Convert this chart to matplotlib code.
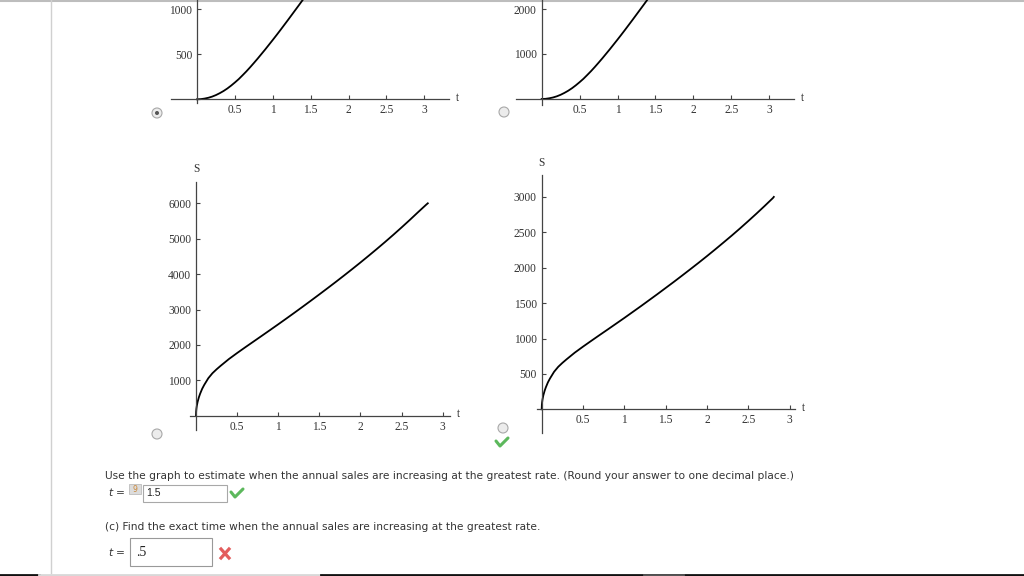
import numpy as np
import matplotlib
matplotlib.use("Agg")
from matplotlib import pyplot as plt
from matplotlib.patches import Circle, Rectangle

W, H = 1024, 576

# values
t_a = [0, 0.05, 0.1, 0.15, 0.2, 0.25, 0.3, 0.35, 0.4, 0.45, 0.5, 0.55, 0.6, 0.65,
       0.7, 0.75, 0.8, 0.85, 0.9, 0.95, 1.0, 1.05, 1.1, 1.15, 1.2, 1.25, 1.3,
       1.35, 1.4, 1.45]
s_a = [0, 2, 8, 17, 30, 47, 68, 92, 120, 152, 187, 224, 266, 309, 355, 403,
       452, 503, 554, 607, 660, 714, 769, 825, 881, 938, 995, 1052, 1110, 1168]

t_b = [0, 0.05, 0.1, 0.15, 0.2, 0.25, 0.3, 0.35, 0.4, 0.45, 0.5, 0.55, 0.6, 0.65,
       0.7, 0.75, 0.8, 0.85, 0.9, 0.95, 1.0, 1.05, 1.1, 1.15, 1.2, 1.25, 1.3,
       1.35, 1.4, 1.45]
s_b = [0, 4, 16, 34, 60, 94, 136, 184, 240, 304, 374, 448, 532, 618, 710, 806,
       904, 1006, 1108, 1214, 1320, 1428, 1538, 1650, 1762, 1876, 1990, 2104,
       2220, 2336]

t_c = [0, 0.002, 0.005, 0.01, 0.02, 0.035, 0.05, 0.075, 0.1, 0.15, 0.2, 0.25,
       0.3, 0.4, 0.5, 0.6, 0.7, 0.8, 0.9, 1.0, 1.1, 1.2, 1.3, 1.4, 1.5, 1.6,
       1.7, 1.8, 1.9, 2.0, 2.1, 2.2, 2.3, 2.4, 2.5, 2.6, 2.7, 2.8, 2.82]
s_c = [0, 125, 198, 280, 395, 520, 620, 760, 870, 1060, 1200, 1310, 1410, 1600,
       1770, 1934, 2095, 2256, 2418, 2581, 2746, 2913, 3082, 3253, 3426, 3601,
       3778, 3958, 4141, 4327, 4517, 4710, 4907, 5109, 5316, 5528, 5746, 5960,
       6000]

t_d = [0, 0.002, 0.005, 0.01, 0.02, 0.035, 0.05, 0.075, 0.1, 0.15, 0.2, 0.25,
       0.3, 0.4, 0.5, 0.6, 0.7, 0.8, 0.9, 1.0, 1.1, 1.2, 1.3, 1.4, 1.5, 1.6,
       1.7, 1.8, 1.9, 2.0, 2.1, 2.2, 2.3, 2.4, 2.5, 2.6, 2.7, 2.8, 2.81]
s_d = [0, 62, 99, 140, 198, 260, 310, 380, 435, 530, 600, 655, 705, 800,
       885, 967, 1048, 1128, 1209, 1290, 1373, 1456, 1541, 1626, 1713, 1800,
       1889, 1979, 2070, 2163, 2258, 2355, 2453, 2554, 2658, 2764, 2873, 2985,
       3000]

x_ticks = [0.5, 1, 1.5, 2, 2.5, 3]
x_labels = ["0.5", "1", "1.5", "2", "2.5", "3"]
yt_a = [500, 1000]
yt_b = [1000, 2000]
yt_c = [1000, 2000, 3000, 4000, 5000, 6000]
yt_d = [500, 1000, 1500, 2000, 2500, 3000]

question = "Use the graph to estimate when the annual sales are increasing at the greatest rate. (Round your answer to one decimal place.)"
part_c = "(c) Find the exact time when the annual sales are increasing at the greatest rate."

fig = plt.figure(figsize=(W / 100, H / 100), dpi=100)
fig.patch.set_facecolor("white")

# page layer in pixel coordinates
bg = fig.add_axes([0, 0, 1, 1])
bg.set_xlim(0, W)
bg.set_ylim(H, 0)
bg.axis("off")

bg.plot([0, W], [0.5, 0.5], color="#bdbdbd", lw=1.5)
bg.plot([50.5, 50.5], [0, 573], color="#d0d0d0", lw=1)
bg.plot([0, 39], [575, 575], color="#111", lw=2)
bg.plot([39, 321], [575, 575], color="#d8d8d8", lw=2)
bg.plot([321, W], [575, 575], color="#111", lw=2)
bg.plot([644, 683], [575, 575], color="#555", lw=2)


def panel(x0, y0, sx, sy, xpx, ypx, t, s, yticks, s_label=False):
    # x0,y0 pixel of origin, sx/sy pixels per unit, xpx/ypx extents of the axis lines
    xlim = ((xpx[0] - x0) / sx, (xpx[1] - x0) / sx)
    ylim = ((y0 - ypx[1]) / sy, (y0 - ypx[0]) / sy)
    ax = fig.add_axes([xpx[0] / W, 1 - ypx[1] / H,
                       (xpx[1] - xpx[0]) / W, (ypx[1] - ypx[0]) / H])
    ax.patch.set_alpha(0)
    ax.plot(t, s, color="black", lw=1.3)
    ax.set_xlim(*xlim)
    ax.set_ylim(*ylim)
    for side in ["top", "right"]:
        ax.spines[side].set_visible(False)
    ax.spines["left"].set_position(("data", 0))
    ax.spines["bottom"].set_position(("data", 0))
    for side in ["left", "bottom"]:
        ax.spines[side].set_color("#444")
        ax.spines[side].set_linewidth(0.9)
    ax.set_xticks(x_ticks)
    ax.set_xticklabels(x_labels)
    ax.set_yticks(yticks)
    ax.set_yticklabels([str(v) for v in yticks])
    ax.tick_params(direction="in", length=3, width=0.8, color="#444",
                   labelsize=8.3, labelcolor="#333")
    ax.tick_params(axis="x", pad=3.5)
    ax.tick_params(axis="y", pad=3.5)
    for lab in ax.get_xticklabels() + ax.get_yticklabels():
        lab.set_family("Liberation Serif")
    ax.annotate("t", xy=(xlim[1], 0), xytext=(5, 1), textcoords="offset points",
                va="center", ha="left", fontsize=8.3, color="#333",
                family="Liberation Serif", annotation_clip=False)
    if s_label:
        ax.annotate("S", xy=(0, ylim[1]), xytext=(0, 9), textcoords="offset points",
                    va="center", ha="center", fontsize=8.3, color="#333",
                    family="Liberation Serif", annotation_clip=False)
    return ax


panel(197, 99.3, 75.8, 45 / 500, (171, 449), (-8, 103), t_a, s_a, yt_a)
panel(541.7, 99.0, 75.8, 45 / 1000, (516, 794), (-8, 105), t_b, s_b, yt_b)
panel(196, 415.7, 82.2, 35.4 / 1000, (190, 450), (181.7, 430), t_c, s_c, yt_c, True)
panel(541.7, 409.3, 82.6, 35.4 / 500, (536.7, 795), (175, 433), t_d, s_d, yt_d, True)

# radio buttons
for cx, cy, sel in [(157, 113, True), (504, 112, False), (157, 434, False), (503, 428, False)]:
    bg.add_patch(Circle((cx, cy), 5, fc="#ececec", ec="#a8a8a8", lw=0.8))
    if sel:
        bg.add_patch(Circle((cx, cy), 2, fc="#555", ec="none"))

green = "#5cb85c"
bg.plot([496, 500, 508], [441, 446, 438], color=green, lw=2.2, solid_capstyle="round")

# question text
txt = dict(fontsize=7.65, color="#333", va="center", family="DejaVu Sans")
bg.text(105, 476, question, **txt)
bg.text(108, 493, "t", style="italic", **txt)
bg.text(116, 493, "=", **txt)
bg.add_patch(Rectangle((129, 484), 12, 10, fc="#dcdcdc", ec="#bdbdbd", lw=0.6))
bg.text(135, 489, "9", fontsize=5.5, color="#c9873a", ha="center", va="center")
bg.add_patch(Rectangle((142.5, 484.5), 84, 17, fc="white", ec="#a8a8a8", lw=0.8))
bg.text(146, 493, "1.5", fontsize=7.5, color="#222", va="center", family="Liberation Sans")
bg.plot([231, 235, 243], [492, 497, 489], color=green, lw=2.2, solid_capstyle="round")

bg.text(105, 527, part_c, **txt)
bg.text(108, 553, "t", style="italic", **txt)
bg.text(116, 553, "=", **txt)
bg.add_patch(Rectangle((129.5, 537.5), 82, 28, fc="white", ec="#999", lw=0.8))
bg.text(136, 552, ".5", fontsize=10, color="#222", va="center", family="Liberation Serif")
red = "#e35d5d"
bg.plot([221, 229], [549, 558], color=red, lw=2.3)
bg.plot([221, 229], [558, 549], color=red, lw=2.3)

plt.savefig("out.png", dpi=100)
